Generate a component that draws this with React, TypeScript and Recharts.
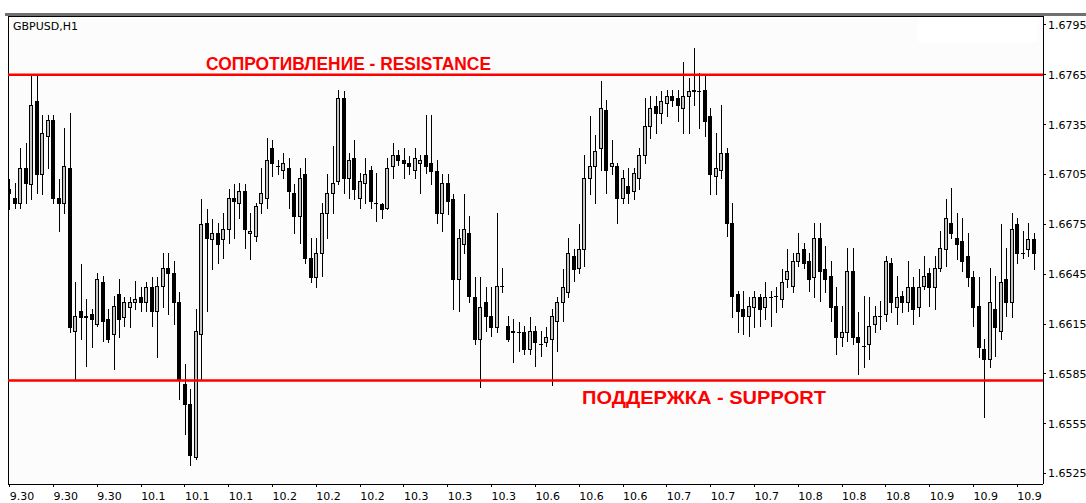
import React from 'react';
import { ComposedChart, Bar, XAxis, YAxis, ReferenceLine, CartesianGrid } from 'recharts';

// ---------- data (GBPUSD H1) ----------
const opens = [
  1.6696, 1.6691, 1.6688, 1.6709, 1.6699, 1.6749, 1.6705, 1.6728, 1.6738, 1.6691,
  1.6688, 1.6709, 1.6611, 1.6623, 1.6619, 1.6621, 1.6615, 1.6640, 1.6618, 1.6609,
  1.6633, 1.6619, 1.6625, 1.6628, 1.6631, 1.6628, 1.6637, 1.6623, 1.6638, 1.6649,
  1.6646, 1.6628, 1.6579, 1.6567, 1.6535, 1.6609, 1.6676, 1.6666, 1.6670, 1.6666,
  1.6672, 1.6691, 1.6688, 1.6695, 1.6670, 1.6668, 1.6688, 1.6691, 1.6721, 1.6710,
  1.6708, 1.6709, 1.6694, 1.6680, 1.6705, 1.6655, 1.6643, 1.6658, 1.6682, 1.6694,
  1.6701, 1.6751, 1.6703, 1.6715, 1.6691, 1.6700, 1.6708, 1.6688, 1.6687, 1.6685,
  1.6710, 1.6717, 1.6714, 1.6712, 1.6708, 1.6712, 1.6717, 1.6712, 1.6707, 1.6682,
  1.6700, 1.6690, 1.6642, 1.6663, 1.6670, 1.6631, 1.6606, 1.6628, 1.6620, 1.6613,
  1.6638, 1.6614, 1.6610, 1.6610, 1.6610, 1.6600, 1.6611, 1.6603, 1.6604, 1.6606,
  1.6617, 1.6628, 1.6634, 1.6656, 1.6649, 1.6660, 1.6703, 1.6710, 1.6721, 1.6744,
  1.6710, 1.6710, 1.6691, 1.6698, 1.6695, 1.6703, 1.6717, 1.6734, 1.6746, 1.6742,
  1.6748, 1.6752, 1.6751, 1.6745, 1.6752, 1.6756, 1.6755, 1.6756, 1.6740, 1.6704,
  1.6708, 1.6718, 1.6676, 1.6633, 1.6624, 1.6620, 1.6625, 1.6631, 1.6625, 1.6631,
  1.6632, 1.6630, 1.6642, 1.6638, 1.6653, 1.6660, 1.6653, 1.6643, 1.6667, 1.6648,
  1.6644, 1.6626, 1.6607, 1.6610, 1.6647, 1.6607, 1.6602, 1.6603, 1.6615, 1.6620,
  1.6621, 1.6652, 1.6625, 1.6632, 1.6628, 1.6637, 1.6625, 1.6638, 1.6646, 1.6637,
  1.6649, 1.6660, 1.6676, 1.6667, 1.6665, 1.6656, 1.6643, 1.6626, 1.6600, 1.6594,
  1.6624, 1.6611, 1.6642, 1.6628, 1.6675, 1.6658, 1.6660, 1.6666,
];
const highs = [
  1.6702, 1.6700, 1.6721, 1.6724, 1.6765, 1.6765, 1.6741, 1.6741, 1.6741, 1.6702,
  1.6733, 1.6742, 1.6640, 1.6651, 1.6630, 1.6624, 1.6646, 1.6644, 1.6624, 1.6632,
  1.6642, 1.6631, 1.6631, 1.6641, 1.6637, 1.6640, 1.6643, 1.6643, 1.6658, 1.6658,
  1.6653, 1.6634, 1.6591, 1.6576, 1.6624, 1.6690, 1.6684, 1.6678, 1.6676, 1.6682,
  1.6696, 1.6699, 1.6700, 1.6699, 1.6682, 1.6688, 1.6709, 1.6727, 1.6726, 1.6714,
  1.6718, 1.6715, 1.6699, 1.6709, 1.6715, 1.6667, 1.6667, 1.6688, 1.6705, 1.6722,
  1.6756, 1.6755, 1.6718, 1.6726, 1.6706, 1.6715, 1.6710, 1.6706, 1.6688, 1.6715,
  1.6724, 1.6720, 1.6721, 1.6716, 1.6721, 1.6717, 1.6741, 1.6741, 1.6714, 1.6705,
  1.6705, 1.6693, 1.6672, 1.6693, 1.6680, 1.6643, 1.6643, 1.6637, 1.6637, 1.6682,
  1.6649, 1.6620, 1.6618, 1.6616, 1.6614, 1.6619, 1.6614, 1.6611, 1.6613, 1.6624,
  1.6631, 1.6648, 1.6667, 1.6660, 1.6675, 1.6717, 1.6740, 1.6729, 1.6761, 1.6750,
  1.6726, 1.6712, 1.6708, 1.6709, 1.6709, 1.6721, 1.6751, 1.6752, 1.6752, 1.6755,
  1.6756, 1.6756, 1.6756, 1.6773, 1.6763, 1.6781, 1.6766, 1.6764, 1.6745, 1.6730,
  1.6747, 1.6721, 1.6688, 1.6635, 1.6635, 1.6631, 1.6635, 1.6633, 1.6640, 1.6635,
  1.6637, 1.6648, 1.6660, 1.6658, 1.6670, 1.6664, 1.6658, 1.6676, 1.6676, 1.6662,
  1.6653, 1.6637, 1.6626, 1.6661, 1.6661, 1.6622, 1.6632, 1.6631, 1.6626, 1.6629,
  1.6656, 1.6655, 1.6644, 1.6635, 1.6653, 1.6643, 1.6648, 1.6656, 1.6649, 1.6656,
  1.6671, 1.6690, 1.6697, 1.6682, 1.6679, 1.6670, 1.6647, 1.6643, 1.6606, 1.6649,
  1.6644, 1.6675, 1.6661, 1.6682, 1.6679, 1.6671, 1.6676, 1.6670,
];
const lows = [
  1.6684, 1.6685, 1.6685, 1.6688, 1.6690, 1.6694, 1.6693, 1.6709, 1.6688, 1.6671,
  1.6682, 1.6610, 1.6581, 1.6606, 1.6590, 1.6601, 1.6614, 1.6605, 1.6604, 1.6588,
  1.6607, 1.6614, 1.6613, 1.6624, 1.6623, 1.6623, 1.6614, 1.6595, 1.6625, 1.6621,
  1.6615, 1.6570, 1.6549, 1.6530, 1.6534, 1.6581, 1.6623, 1.6648, 1.6652, 1.6655,
  1.6664, 1.6667, 1.6679, 1.6661, 1.6654, 1.6665, 1.6682, 1.6685, 1.6704, 1.6705,
  1.6703, 1.6685, 1.6670, 1.6664, 1.6652, 1.6640, 1.6637, 1.6644, 1.6667, 1.6682,
  1.6699, 1.6694, 1.6691, 1.6690, 1.6685, 1.6688, 1.6685, 1.6677, 1.6679, 1.6684,
  1.6703, 1.6711, 1.6703, 1.6705, 1.6703, 1.6694, 1.6706, 1.6699, 1.6676, 1.6671,
  1.6681, 1.6624, 1.6623, 1.6658, 1.6628, 1.6603, 1.6577, 1.6611, 1.6608, 1.6610,
  1.6634, 1.6605, 1.6592, 1.6599, 1.6597, 1.6597, 1.6590, 1.6596, 1.6602, 1.6578,
  1.6599, 1.6617, 1.6631, 1.6641, 1.6646, 1.6650, 1.6693, 1.6688, 1.6708, 1.6694,
  1.6705, 1.6676, 1.6688, 1.6688, 1.6690, 1.6696, 1.6712, 1.6727, 1.6730, 1.6736,
  1.6740, 1.6746, 1.6737, 1.6730, 1.6730, 1.6747, 1.6733, 1.6728, 1.6693, 1.6693,
  1.6703, 1.6668, 1.6619, 1.6610, 1.6609, 1.6608, 1.6613, 1.6614, 1.6618, 1.6614,
  1.6622, 1.6625, 1.6637, 1.6634, 1.6650, 1.6649, 1.6635, 1.6631, 1.6629, 1.6634,
  1.6617, 1.6597, 1.6602, 1.6605, 1.6603, 1.6585, 1.6589, 1.6594, 1.6610, 1.6612,
  1.6617, 1.6622, 1.6615, 1.6622, 1.6623, 1.6615, 1.6620, 1.6636, 1.6626, 1.6624,
  1.6647, 1.6650, 1.6667, 1.6654, 1.6647, 1.6638, 1.6614, 1.6595, 1.6559, 1.6589,
  1.6596, 1.6606, 1.6620, 1.6619, 1.6652, 1.6655, 1.6656, 1.6648,
];
const closes = [
  1.6694, 1.6688, 1.6709, 1.6700, 1.6747, 1.6705, 1.6730, 1.6738, 1.6691, 1.6688,
  1.6710, 1.6613, 1.6620, 1.6619, 1.6620, 1.6618, 1.6642, 1.6617, 1.6606, 1.6626,
  1.6618, 1.6628, 1.6628, 1.6630, 1.6628, 1.6637, 1.6623, 1.6638, 1.6649, 1.6646,
  1.6628, 1.6581, 1.6567, 1.6536, 1.6611, 1.6675, 1.6667, 1.6670, 1.6663, 1.6672,
  1.6691, 1.6689, 1.6695, 1.6672, 1.6671, 1.6686, 1.6694, 1.6714, 1.6712, 1.6710,
  1.6712, 1.6695, 1.6680, 1.6703, 1.6655, 1.6643, 1.6658, 1.6682, 1.6694, 1.6700,
  1.6751, 1.6703, 1.6714, 1.6696, 1.6701, 1.6705, 1.6689, 1.6688, 1.6684, 1.6709,
  1.6717, 1.6714, 1.6712, 1.6710, 1.6715, 1.6714, 1.6710, 1.6707, 1.6682, 1.6700,
  1.6689, 1.6642, 1.6667, 1.6672, 1.6632, 1.6606, 1.6625, 1.6620, 1.6613, 1.6638,
  1.6638, 1.6606, 1.6611, 1.6610, 1.6600, 1.6611, 1.6604, 1.6603, 1.6607, 1.6620,
  1.6628, 1.6637, 1.6658, 1.6648, 1.6660, 1.6703, 1.6710, 1.6719, 1.6745, 1.6708,
  1.6712, 1.6691, 1.6703, 1.6694, 1.6706, 1.6717, 1.6734, 1.6745, 1.6742, 1.6749,
  1.6752, 1.6750, 1.6747, 1.6752, 1.6755, 1.6755, 1.6755, 1.6737, 1.6705, 1.6709,
  1.6718, 1.6676, 1.6632, 1.6623, 1.6620, 1.6626, 1.6631, 1.6624, 1.6631, 1.6631,
  1.6632, 1.6640, 1.6647, 1.6653, 1.6658, 1.6652, 1.6642, 1.6667, 1.6647, 1.6642,
  1.6625, 1.6607, 1.6610, 1.6647, 1.6607, 1.6604, 1.6602, 1.6614, 1.6620, 1.6620,
  1.6653, 1.6628, 1.6631, 1.6628, 1.6637, 1.6624, 1.6637, 1.6644, 1.6637, 1.6649,
  1.6661, 1.6679, 1.6670, 1.6663, 1.6653, 1.6643, 1.6625, 1.6601, 1.6594, 1.6628,
  1.6613, 1.6640, 1.6628, 1.6672, 1.6658, 1.6658, 1.6666, 1.6658,
];

const timeTickIndexes = [0, 8, 16, 24, 32, 40, 48, 56, 64, 72, 80, 88, 96, 104, 112, 120, 128, 136, 144, 152, 160, 168, 176, 184];
const timeTickLabels = [
  '9.30', '9.30', '9.30', '10.1', '10.1', '10.1', '10.2', '10.2', '10.2', '10.3', '10.3', '10.3',
  '10.6', '10.6', '10.6', '10.7', '10.7', '10.7', '10.8', '10.8', '10.8', '10.9', '10.9', '10.9',
];
const priceTicks = [1.6525, 1.6555, 1.6585, 1.6615, 1.6645, 1.6675, 1.6705, 1.6735, 1.6765, 1.6795];
const resistanceLevel = 1.6765;
const supportLevel = 1.6581;
const symbolTitle = 'GBPUSD,H1';
const resistanceCaption = 'СОПРОТИВЛЕНИЕ - RESISTANCE';
const supportCaption = 'ПОДДЕРЖКА - SUPPORT';

const xDomain: [number, number] = [-0.31, 188.69];
const yDomain: [number, number] = [1.65187, 1.68004];

const data = opens.map((o, i) => ({ i, o, h: highs[i], l: lows[i], c: closes[i] }));

const AXIS_FONT = '"DejaVu Sans", Verdana, sans-serif';
const CAPTION_FONT = '"Liberation Sans", Arial, sans-serif';

function Candle(props: any) {
  const { x, y, width, height, payload } = props;
  if (!payload || !isFinite(x) || !isFinite(y) || !isFinite(height)) return null;
  const { o, h, l, c } = payload;
  const top = Math.min(y, y + height);
  const bot = Math.max(y, y + height);
  const k = h > l ? (bot - top) / (h - l) : 0;
  const py = (v: number) => top + (h - v) * k;
  const cx = Math.floor(x + width / 2);
  const yo = py(o);
  const yc = py(c);
  const bt = Math.round(Math.min(yo, yc));
  const bb = Math.round(Math.max(yo, yc));
  const up = c > o;
  const wt = Math.round(top);
  const wb = Math.round(bot);
  return (
    <g>
      <line x1={cx + 0.5} x2={cx + 0.5} y1={wt} y2={wb + 1} stroke="#000" strokeWidth={1} />
      {bb - bt < 1 ? (
        <line x1={cx - 2} x2={cx + 2} y1={bt + 0.5} y2={bt + 0.5} stroke="#000" strokeWidth={1} />
      ) : (
        <rect
          x={cx - 1.5}
          y={bt + 0.5}
          width={3}
          height={bb - bt}
          fill={up ? '#c4c4c4' : '#000'}
          stroke="#000"
          strokeWidth={1}
        />
      )}
    </g>
  );
}

function TimeTick(props: any) {
  const { x, y, payload } = props;
  const idx = timeTickIndexes.indexOf(payload.value);
  return (
    <text x={x} y={y + 11} fontSize={11} fontFamily={AXIS_FONT} fill="#000" textAnchor="start">
      {idx >= 0 ? timeTickLabels[idx] : ''}
    </text>
  );
}

function makeCaption(text: string, dx: number, dy: number, len: number) {
  return (p: any) => {
    const vb = p && p.viewBox ? p.viewBox : { x: 8, y: 0 };
    return (
      <text
        x={vb.x + dx}
        y={vb.y + dy}
        fill="#ff0000"
        fontSize={18}
        fontWeight="bold"
        fontFamily={CAPTION_FONT}
        textLength={len}
        lengthAdjust="spacingAndGlyphs"
      >
        {text}
      </text>
    );
  };
}

export default function App() {
  return (
    <div style={{ position: 'absolute', left: 0, top: 0, width: 1086, height: 503, background: '#fff', overflow: 'hidden' }}>
      <ComposedChart
        width={1086}
        height={503}
        data={data}
        margin={{ top: 16, right: 0, bottom: 0, left: 8 }}
      >
        <CartesianGrid fill="#fbfcfb" horizontal={false} vertical={false} stroke="none" />
        <XAxis
          type="number"
          dataKey="i"
          domain={xDomain}
          allowDataOverflow
          ticks={timeTickIndexes}
          interval={0}
          height={19}
          tickSize={3}
          tickMargin={2}
          axisLine={{ stroke: '#000', shapeRendering: 'crispEdges' }}
          tickLine={{ stroke: '#000', shapeRendering: 'crispEdges' }}
          tick={<TimeTick />}
        />
        <YAxis
          type="number"
          orientation="right"
          domain={yDomain}
          allowDataOverflow
          ticks={priceTicks}
          interval={0}
          width={43}
          tickSize={3}
          tickMargin={2}
          axisLine={{ stroke: '#000', shapeRendering: 'crispEdges' }}
          tickLine={{ stroke: '#000', shapeRendering: 'crispEdges' }}
          tick={{ fill: '#000', fontSize: 11, fontFamily: AXIS_FONT }}
          tickFormatter={(v: number) => v.toFixed(4)}
        />
        <ReferenceLine x={xDomain[0]} stroke="#000" strokeWidth={1} shapeRendering="crispEdges" />
        <ReferenceLine y={yDomain[1]} stroke="#000" strokeWidth={1} shapeRendering="crispEdges" />
        <Bar
          dataKey={(d: any) => [d.l, d.h]}
          barSize={4}
          shape={Candle}
          isAnimationActive={false}
        />
        <ReferenceLine
          y={resistanceLevel}
          stroke="#ff0000"
          strokeWidth={2.5}
          label={makeCaption(resistanceCaption, 198, -5, 285)}
        />
        <ReferenceLine
          y={supportLevel}
          stroke="#ff0000"
          strokeWidth={2.5}
          label={makeCaption(supportCaption, 574, 24, 244)}
        />
      </ComposedChart>
      <div style={{ position: 'absolute', left: 5, top: 13, width: 1081, height: 3, background: '#707070' }} />
      <div style={{ position: 'absolute', left: 918, top: 17, width: 120, height: 25, background: '#ffffff' }} />
      <div
        style={{
          position: 'absolute',
          left: 13,
          top: 21,
          fontFamily: AXIS_FONT,
          fontSize: 11,
          lineHeight: '11px',
          color: '#000',
          whiteSpace: 'nowrap',
        }}
      >
        {symbolTitle}
      </div>
    </div>
  );
}
